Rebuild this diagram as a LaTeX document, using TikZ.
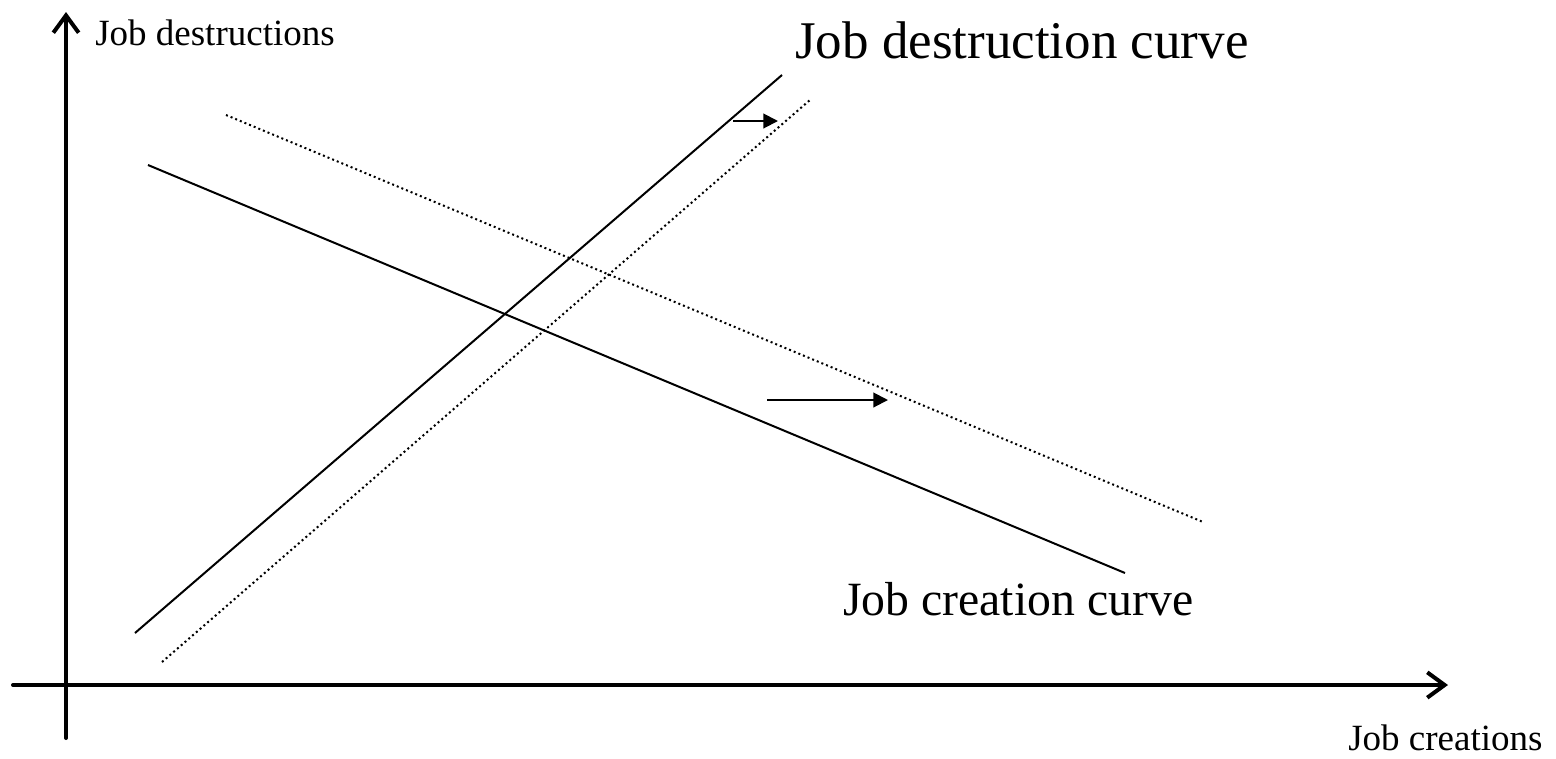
\documentclass[tikz,border=0pt]{standalone}
\usepackage{fontspec}
\setmainfont{Liberation Serif}
\usetikzlibrary{arrows.meta}
\tikzset{
  axis/.style={line width=3pt, line cap=round, -{Straight Barb[length=13pt,width=19pt,line width=3pt]}},
  curve/.style={line width=1.5pt},
  shifted/.style={line width=1.5pt, dash pattern=on 1.5pt off 2.25pt},
  shiftarrow/.style={line width=1.5pt, -{Triangle[length=11pt,width=11pt]}},
  smalllabel/.style={inner sep=0pt, anchor=base west, font=\fontsize{27.75}{32}\selectfont},
  biglabel/.style={inner sep=0pt, anchor=base west, font=\fontsize{39.75}{46}\selectfont},
  midlabel/.style={inner sep=0pt, anchor=base west, font=\fontsize{35.8}{42}\selectfont},
}
\begin{document}
\begin{tikzpicture}[x=0.75pt,y=-0.75pt]
\useasboundingbox (0,0) rectangle (1556,758);
% axes
\coordinate (yb) at (66,738);
\coordinate (yt) at (66,12);
\coordinate (xl) at (13,685);
\coordinate (xr) at (1448,685);
\draw[axis] (yb) -- (yt);
\draw[axis] (xl) -- (xr);
% curves
\coordinate (d1) at (135,633);
\coordinate (d2) at (782,75);
\coordinate (dd1) at (162,662);
\coordinate (dd2) at (810,100);
\coordinate (c1) at (148,165);
\coordinate (c2) at (1125,573);
\coordinate (cc1) at (226,115);
\coordinate (cc2) at (1203,522);
\draw[curve] (d1) -- (d2);
\draw[shifted] (dd1) -- (dd2);
\draw[curve] (c1) -- (c2);
\draw[shifted] (cc1) -- (cc2);
% shift arrows
\coordinate (a1s) at (733,121);
\coordinate (a1e) at (778,121);
\coordinate (a2s) at (767,400);
\coordinate (a2e) at (888,400);
\draw[shiftarrow] (a1s) -- (a1e);
\draw[shiftarrow] (a2s) -- (a2e);
% labels
\node[smalllabel] (ylab) at (95,45) {Job destructions};
\node[smalllabel] (xlab) at (1348,750) {Job creations};
\node[biglabel] (dlab) at (795,58) {Job destruction curve};
\node[midlabel] (clab) at (843,615) {Job creation curve};
\end{tikzpicture}
\end{document}
